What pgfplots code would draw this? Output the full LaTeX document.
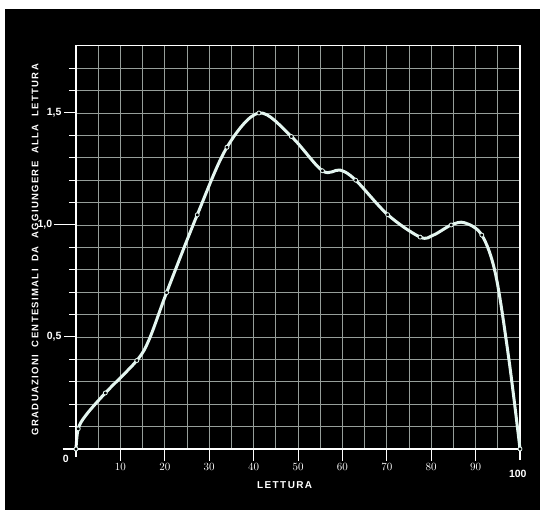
\documentclass[border=0pt]{standalone}
\usepackage{fontspec}
\setmainfont{Liberation Sans}
\newfontfamily\lab{Liberation Sans}[LetterSpace=14]
\newfontfamily\tfont{Liberation Sans}
\usepackage{pgfplots}
\pgfplotsset{compat=1.18}
\definecolor{curve}{RGB}{228,246,240}
\definecolor{gridc}{RGB}{150,158,154}

\begin{document}
\begin{tikzpicture}
\useasboundingbox (0,0) rectangle (540pt,510pt);
\fill[white] (0,0) rectangle (540pt,510pt);
\fill[black] (5pt,0) rectangle (540pt,501pt);
\begin{axis}[
  at={(76pt,61pt)}, anchor=south west,
  scale only axis, width=444pt, height=403.2pt,
  xmin=0, xmax=100, ymin=0, ymax=1.8,
  xtick pos=bottom, ytick pos=left,
  xtick={10,20,...,90}, minor xtick={5,15,...,95},
  ytick={0.5,1,1.5}, yticklabels={{0,5},{},{1,5}},
  minor ytick={0.1,0.2,0.3,0.4,0.6,0.7,0.8,0.9,1.1,1.2,1.3,1.4,1.6,1.7},
  grid=both,
  major grid style={draw=gridc, line width=0.7pt},
  minor grid style={draw=gridc, line width=0.7pt},
  axis line style={draw=white, line width=1.2pt},
  tick align=outside, major tick length=12pt, minor tick length=7pt,
  major tick style={draw=white, line width=1pt},
  minor x tick style={draw=none},
  minor y tick style={draw=white, line width=0.9pt},
  ticklabel style={font=\tfont\bfseries\fontsize{10.5}{12}\selectfont, text=white},
  xticklabel style={yshift=1pt},
  yticklabel style={xshift=1pt},
  clip=false,
]
\addplot[curve, line width=3pt, smooth, tension=0.55] coordinates {
  (0,0) (0.5,0.09) (2.2,0.15) (6.6,0.25) (13.7,0.395) (16.5,0.49)
  (20.4,0.698) (27.3,1.045) (34.0,1.347) (41.2,1.50) (48.5,1.395)
  (55.5,1.242) (59.5,1.245) (63.0,1.20) (70.2,1.046) (77.5,0.946)
  (80.5,0.955) (84.5,1.0) (87.5,1.01) (91.4,0.955) (94.5,0.78)
  (97.5,0.40) (100,0)};
\addplot[only marks, mark=*, mark size=2pt,
  mark options={draw=curve, fill=black, line width=0.8pt}] coordinates {
  (0,0) (0.5,0.09) (6.6,0.25) (13.7,0.395) (20.4,0.698) (27.3,1.045)
  (34.0,1.347) (41.2,1.50) (48.5,1.395) (55.5,1.242) (63.0,1.20)
  (70.2,1.046) (77.5,0.946) (84.5,1.0) (91.4,0.955) (100,0)};
\draw[white, line width=1pt] (axis cs:-5,1) -- (axis cs:0,1);
\node[anchor=east, inner sep=1.5pt, text=white, font=\tfont\bfseries\fontsize{10.5}{12}\selectfont] at (axis cs:-5,1) {1,0};
\draw[white, line width=1.8pt] (axis cs:0,-0.035) -- (axis cs:0,1.8);
\draw[white, line width=1.8pt] (axis cs:-3,0) -- (axis cs:100,0);
\draw[white, line width=1.8pt] (axis cs:100,-0.05) -- (axis cs:100,0);
\node[text=white, font=\tfont\bfseries\fontsize{10.5}{12}\selectfont] at (axis cs:-2.3,-0.045) {0};
\node[text=white, font=\tfont\bfseries\fontsize{10.5}{12}\selectfont] at (axis cs:99.5,-0.11) {100};
\node[text=white, font=\lab\bfseries\fontsize{10}{12}\selectfont] at (axis cs:47,-0.16) {LETTURA};
\node[text=white, rotate=90, font=\lab\bfseries\fontsize{9.5}{12}\selectfont] at (axis cs:-9.2,0.89)
  {GRADUAZIONI\ \ CENTESIMALI\ \ DA\ \ AGGIUNGERE\ \ ALLA\ \ LETTURA};
\end{axis}
\end{tikzpicture}
\end{document}
